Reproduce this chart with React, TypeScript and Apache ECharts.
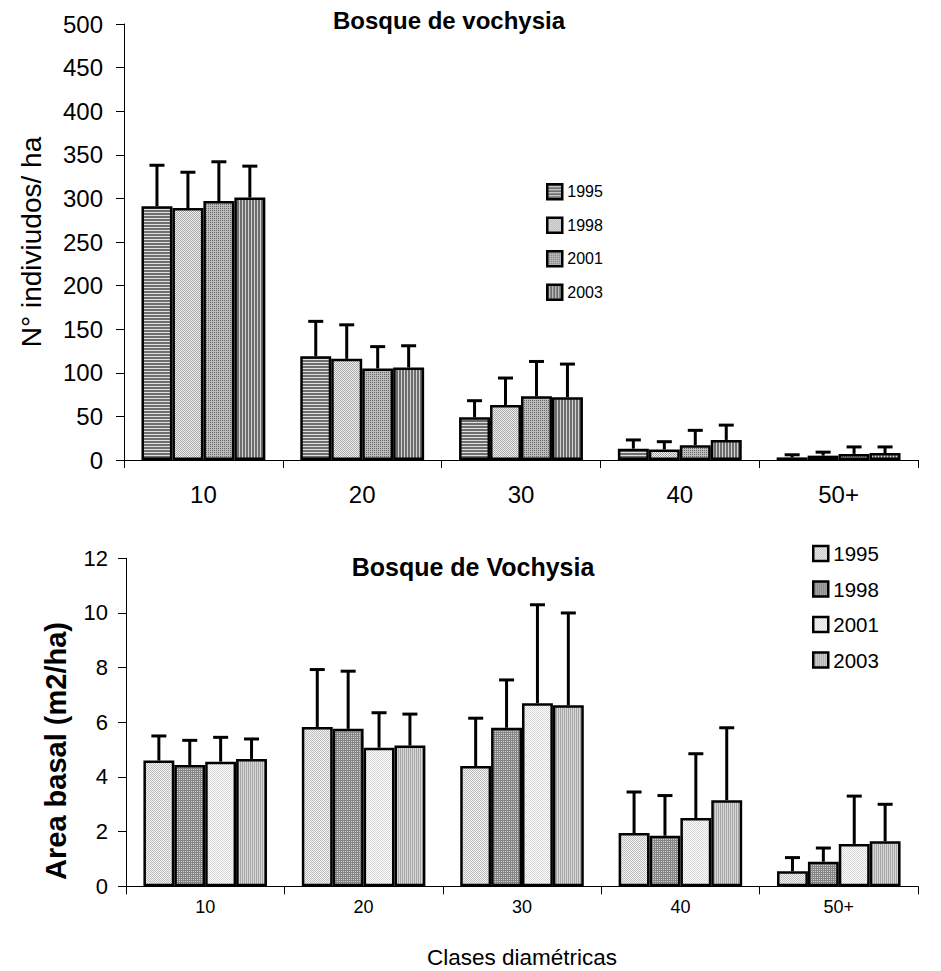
import React, { useEffect, useRef } from "react";
import * as echarts from "echarts";

const categories = ["10", "20", "30", "40", "50+"];
const years = ["1995", "1998", "2001", "2003"];

// Top chart: N° individuos/ha (means and upper ends of error bars)
const ind1995 = [291, 119, 49, 13, 3];
const ind1998 = [289, 116, 63, 12, 5];
const ind2001 = [297, 105, 73, 17, 7];
const ind2003 = [301, 106, 72, 23, 8];
const indUp1995 = [338, 159, 68, 23, 6];
const indUp1998 = [330, 155, 94, 21, 9];
const indUp2001 = [342, 130, 113, 34, 15];
const indUp2003 = [337, 131, 110, 40, 15];

// Bottom chart: Area basal (m2/ha)
const ab1995 = [4.6, 5.83, 4.4, 1.95, 0.55];
const ab1998 = [4.44, 5.76, 5.8, 1.85, 0.9];
const ab2001 = [4.56, 5.07, 6.7, 2.5, 1.55];
const ab2003 = [4.66, 5.15, 6.62, 3.15, 1.65];
const abUp1995 = [5.5, 7.93, 6.15, 3.45, 1.05];
const abUp1998 = [5.34, 7.87, 7.55, 3.32, 1.4];
const abUp2001 = [5.45, 6.35, 10.3, 4.85, 3.3];
const abUp2003 = [5.39, 6.3, 10.0, 5.8, 3.0];

const topTicks = { min: 0, max: 500, interval: 50 };
const bottomTicks = { min: 0, max: 12, interval: 2 };

const FONT = "'Liberation Sans', Arial, sans-serif";
const GAP = 0.22;

function makePattern(w: number, h: number, fn: (x: number, y: number) => string) {
  const c = document.createElement("canvas");
  c.width = w;
  c.height = h;
  const ctx = c.getContext("2d")!;
  for (let y = 0; y < h; y++) {
    for (let x = 0; x < w; x++) {
      ctx.fillStyle = fn(x, y);
      ctx.fillRect(x, y, 1, 1);
    }
  }
  return { image: c, repeat: "repeat" } as any;
}

export default function App() {
  const ref = useRef<HTMLDivElement>(null);
  useEffect(() => {
    document.body.style.margin = "0";
    const chart = echarts.init(ref.current!, null, { renderer: "svg" });

    const topPatterns = [
      makePattern(3, 3, (x, y) => (y % 3 === 2 ? "#e0e0e0" : "#6e6e6e")),
      makePattern(2, 2, (x, y) => ((x + y) % 2 ? "#f0f0f0" : "#a8a8a8")),
      makePattern(2, 2, (x, y) => (x % 2 === 0 && y % 2 === 0 ? "#666666" : "#bcbcbc")),
      makePattern(3, 3, (x, y) => (x % 3 === 2 ? "#d0d0d0" : "#6e6e6e")),
    ];
    const bottomPatterns = [
      makePattern(2, 2, (x, y) => ((x + y) % 2 ? "#f4f4f4" : "#bdbdbd")),
      makePattern(2, 2, (x, y) => (y % 2 === 0 || x % 2 === 0 ? "#858585" : "#d0d0d0")),
      makePattern(2, 2, (x, y) => ((x + y) % 2 ? "#ffffff" : "#d6d6d6")),
      makePattern(2, 2, (x, y) => (x % 2 === 0 ? "#a6a6a6" : "#d8d8d8")),
    ];

    const topMeans = [ind1995, ind1998, ind2001, ind2003];
    const topUps = [indUp1995, indUp1998, indUp2001, indUp2003];
    const botMeans = [ab1995, ab1998, ab2001, ab2003];
    const botUps = [abUp1995, abUp1998, abUp2001, abUp2003];

    const errSeries = (grid: number, k: number, means: number[], ups: number[]) => ({
      type: "custom",
      name: "err-" + grid + "-" + k,
      xAxisIndex: grid,
      yAxisIndex: grid,
      z: 5,
      data: means.map((m, i) => [i, m, ups[i]]),
      encode: { x: 0, y: 1 },
      renderItem: (params: any, api: any) => {
        const idx = api.value(0);
        const mean = api.value(1);
        const up = api.value(2);
        const band = api.size([1, 0])[0];
        const groupW = band * (1 - GAP);
        const bw = groupW / 4;
        const off = -groupW / 2 + bw * (k + 0.5);
        const p0 = api.coord([idx, mean]);
        const p1 = api.coord([idx, up]);
        const x = p0[0] + off;
        return {
          type: "group",
          children: [
            { type: "line", shape: { x1: x, y1: p0[1], x2: x, y2: p1[1] }, style: { stroke: "#000", lineWidth: 3 } },
            { type: "line", shape: { x1: x - 7.5, y1: p1[1], x2: x + 7.5, y2: p1[1] }, style: { stroke: "#000", lineWidth: 3 } },
          ],
        };
      },
    });

    const series: any[] = [];
    years.forEach((y, k) => {
      series.push({
        type: "bar",
        name: "a-" + y,
        xAxisIndex: 0,
        yAxisIndex: 0,
        data: topMeans[k],
        barGap: "0%",
        barCategoryGap: GAP * 100 + "%",
        itemStyle: { color: topPatterns[k], borderColor: "#000", borderWidth: 2.5 },
      });
    });
    years.forEach((y, k) => {
      series.push({
        type: "bar",
        name: "b-" + y,
        xAxisIndex: 1,
        yAxisIndex: 1,
        data: botMeans[k],
        barGap: "0%",
        barCategoryGap: GAP * 100 + "%",
        itemStyle: { color: bottomPatterns[k], borderColor: "#000", borderWidth: 2.5 },
      });
    });
    years.forEach((y, k) => series.push(errSeries(0, k, topMeans[k], topUps[k])));
    years.forEach((y, k) => series.push(errSeries(1, k, botMeans[k], botUps[k])));

    const axisLine = { show: true, lineStyle: { color: "#000", width: 1 } };
    const axisTick = { show: true, length: 8, lineStyle: { color: "#000", width: 1 } };

    chart.setOption({
      animation: false,
      backgroundColor: "#fff",
      textStyle: { fontFamily: FONT },
      grid: [
        { left: 124, top: 24, width: 794, height: 436 },
        { left: 126, top: 558.3, width: 792, height: 328 },
      ],
      xAxis: [
        {
          type: "category",
          gridIndex: 0,
          data: categories,
          axisLine,
          axisTick: { ...axisTick, alignWithLabel: false },
          axisLabel: { fontSize: 24, color: "#000", margin: 22, fontFamily: FONT },
        },
        {
          type: "category",
          gridIndex: 1,
          data: categories,
          axisLine,
          axisTick: { ...axisTick, alignWithLabel: false },
          axisLabel: { fontSize: 18, color: "#000", margin: 12, fontFamily: FONT },
        },
      ],
      yAxis: [
        {
          type: "value",
          gridIndex: 0,
          ...topTicks,
          axisLine,
          axisTick,
          splitLine: { show: false },
          axisLabel: { fontSize: 24, color: "#000", margin: 21, fontFamily: FONT },
        },
        {
          type: "value",
          gridIndex: 1,
          ...bottomTicks,
          axisLine,
          axisTick,
          splitLine: { show: false },
          axisLabel: { fontSize: 22, color: "#000", margin: 18, fontFamily: FONT },
        },
      ],
      legend: [
        {
          orient: "vertical",
          left: 541,
          top: 178,
          itemWidth: 15,
          itemHeight: 15,
          itemGap: 16,
          icon: "rect",
          data: years.map((y) => "a-" + y),
          formatter: (n: string) => n.split("-")[1],
          textStyle: { fontSize: 16, color: "#000", fontFamily: FONT },
          itemStyle: { borderColor: "#000", borderWidth: 2.5 },
          selectedMode: false,
        },
        {
          orient: "vertical",
          left: 807,
          top: 538,
          itemWidth: 15,
          itemHeight: 15,
          itemGap: 14.5,
          icon: "rect",
          data: years.map((y) => "b-" + y),
          formatter: (n: string) => n.split("-")[1],
          textStyle: { fontSize: 20.5, color: "#000", fontFamily: FONT },
          itemStyle: { borderColor: "#000", borderWidth: 2.5 },
          selectedMode: false,
        },
      ],
      graphic: [
        {
          type: "text",
          x: 449,
          y: 20,
          style: { text: "Bosque de vochysia", fontSize: 24, fontWeight: "bold", fontFamily: FONT, fill: "#000", align: "center", verticalAlign: "middle" },
        },
        {
          type: "text",
          x: 473,
          y: 567,
          style: { text: "Bosque de Vochysia", fontSize: 25, fontWeight: "bold", fontFamily: FONT, fill: "#000", align: "center", verticalAlign: "middle" },
        },
        {
          type: "text",
          x: 31,
          y: 242,
          rotation: Math.PI / 2,
          style: { text: "N° indiviudos/ ha", fontSize: 28, fontFamily: FONT, fill: "#000", align: "center", verticalAlign: "middle" },
        },
        {
          type: "text",
          x: 56,
          y: 751,
          rotation: Math.PI / 2,
          style: { text: "Area basal (m2/ha)", fontSize: 29, fontWeight: "bold", fontFamily: FONT, fill: "#000", align: "center", verticalAlign: "middle" },
        },
        {
          type: "text",
          x: 522,
          y: 957,
          style: { text: "Clases diamétricas", fontSize: 22.5, fontFamily: FONT, fill: "#000", align: "center", verticalAlign: "middle" },
        },
      ],
      series,
    });
    return () => chart.dispose();
  }, []);
  return <div ref={ref} style={{ width: 941, height: 971 }} />;
}
